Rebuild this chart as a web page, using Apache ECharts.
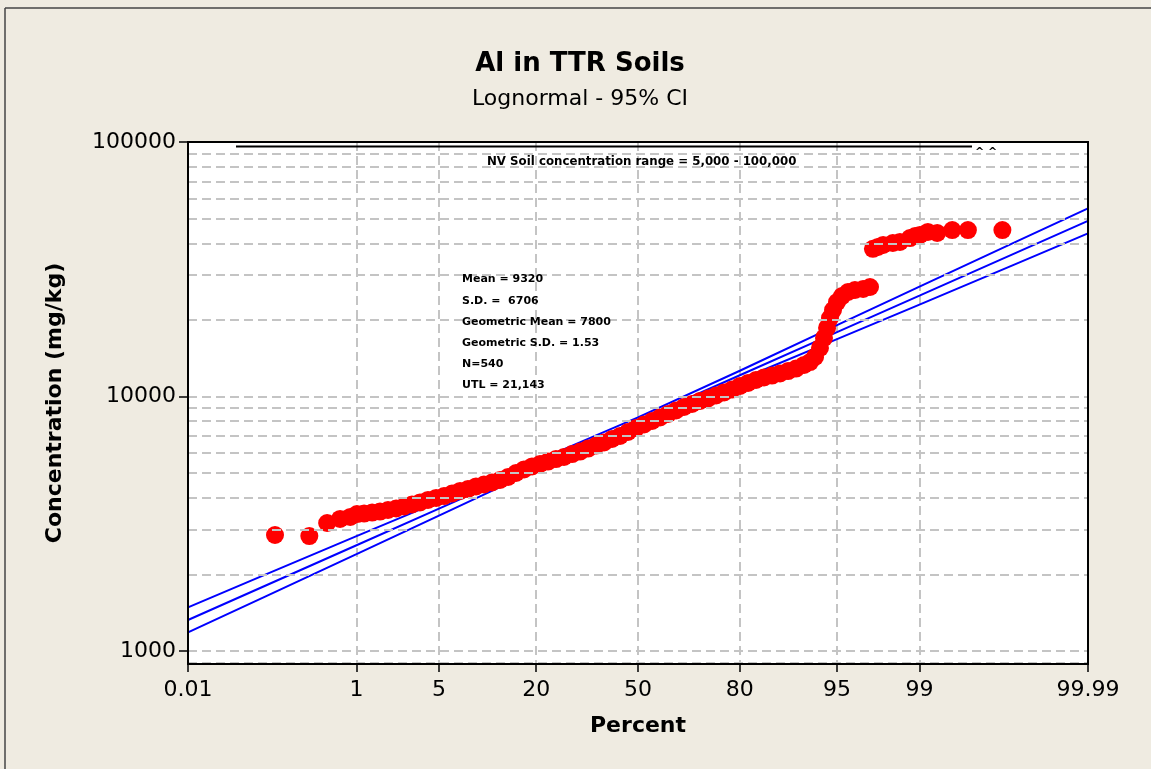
<!DOCTYPE html>
<html>
<head>
<meta charset="utf-8">
<title>Al in TTR Soils</title>
<script src="https://cdn.jsdelivr.net/npm/echarts@6/dist/echarts.min.js"></script>
<style>
    html, body { margin: 0; padding: 0; background: #efebe1; }
    #main { width: 1151px; height: 769px; }
</style>
</head>
<body>
<div id="main"></div>
<script>
// 概率图 - 对数正态

// x轴百分比刻度
let pctTicks = [0.01, 1, 5, 20, 50, 80, 95, 99, 99.99];
// y轴刻度
let concTicks = [1000, 10000, 100000];
// 横向网格线
let gridConc = [900, 1000, 2000, 3000, 4000, 5000, 6000, 7000, 8000, 9000,
    10000, 20000, 30000, 40000, 50000, 60000, 70000, 80000, 90000];

// 样本点 (百分比, 浓度 mg/kg)
let samplePct = [0.135, 0.33, 0.51, 0.69, 0.87, 1.01, 1.18, 1.40, 1.65, 1.94,
    2.28, 2.66, 3.09, 3.58, 4.13, 4.76, 5.45, 6.22, 7.07, 8.00,
    9.03, 10.15, 11.37, 12.71, 14.14, 15.67, 17.31, 19.05, 20.90, 22.84,
    24.89, 27.03, 29.29, 31.60, 33.98, 36.43, 38.94, 41.49, 44.08, 46.69,
    49.34, 51.99, 54.62, 57.22, 59.79, 62.32, 64.80, 67.22, 69.57, 71.87,
    74.05, 76.15, 78.14, 80.04, 81.83, 83.52, 85.11, 86.59, 87.98, 89.25,
    90.42, 91.50, 92.24, 92.83, 93.37, 93.79, 94.09, 94.37, 94.65, 95.00,
    95.41, 95.87, 96.35, 96.86, 97.24,
    97.39, 97.63, 97.86, 98.24, 98.48, 98.77, 98.90, 99.01, 99.17, 99.33,
    99.53, 99.68, 99.87];
let sampleConc = [2856, 2830, 3184, 3302, 3362, 3453, 3469, 3500, 3532, 3581,
    3630, 3697, 3764, 3833, 3921, 3993, 4064, 4158, 4254, 4330,
    4430, 4510, 4593, 4698, 4827, 5005, 5167, 5309, 5430, 5553,
    5680, 5784, 5943, 6079, 6246, 6418, 6595, 6808, 6995, 7252,
    7519, 7762, 8011, 8270, 8535, 8810, 9093, 9343, 9600, 9820,
    10090, 10370, 10650, 11000, 11300, 11610, 11880, 12090, 12320, 12590,
    12880, 13300, 13660, 14300, 15510, 16980, 18590, 20340, 21870, 23510,
    24820, 25740, 26210, 26450, 26930,
    38040, 38680, 39400, 40100, 40470, 41950, 42720, 43110, 44310, 43900,
    45100, 45100, 45100];

// 拟合线及95%置信区间
let fitPct = [0.01, 0.1, 1, 5, 20, 50, 80, 95, 99, 99.9, 99.99];
let fitConc = [1324, 1797, 2604, 3625, 5352, 8054, 12120, 17890, 24900, 36090, 48980];
let upperConc = [1483, 1986, 2826, 3861, 5575, 8276, 12620, 19060, 27020, 39870, 54840];
let lowerConc = [1183, 1627, 2401, 3403, 5138, 7838, 11640, 16800, 22960, 32680, 43740];

// 统计信息
let statsLines = ['Mean = 9320', 'S.D. =  6706', 'Geometric Mean = 7800',
    'Geometric S.D. = 1.53', 'N=540', 'UTL = 21,143'];
let rangeNote = 'NV Soil concentration range = 5,000 - 100,000';

const FONT = 'DejaVu Sans';

//正态分布逆函数 (概率坐标)
function probit(p) {
    let a = [-3.969683028665376e+01, 2.209460984245205e+02, -2.759285104469687e+02, 1.383577518672690e+02, -3.066479806614716e+01, 2.506628277459239e+00];
    let b = [-5.447609879822406e+01, 1.615858368580409e+02, -1.556989798598866e+02, 6.680131188771972e+01, -1.328068155288572e+01];
    let c = [-7.784894002430293e-03, -3.223964580411365e-01, -2.400758277161838e+00, -2.549732539343734e+00, 4.374664141464968e+00, 2.938163982698783e+00];
    let d = [7.784695709041462e-03, 3.224671290700398e-01, 2.445134137142996e+00, 3.754408661907416e+00];
    let pl = 0.02425, q, r;
    if (p < pl) {
        q = Math.sqrt(-2 * Math.log(p));
        return (((((c[0] * q + c[1]) * q + c[2]) * q + c[3]) * q + c[4]) * q + c[5]) / ((((d[0] * q + d[1]) * q + d[2]) * q + d[3]) * q + 1);
    }
    if (p > 1 - pl) {
        q = Math.sqrt(-2 * Math.log(1 - p));
        return -(((((c[0] * q + c[1]) * q + c[2]) * q + c[3]) * q + c[4]) * q + c[5]) / ((((d[0] * q + d[1]) * q + d[2]) * q + d[3]) * q + 1);
    }
    q = p - 0.5;
    r = q * q;
    return (((((a[0] * r + a[1]) * r + a[2]) * r + a[3]) * r + a[4]) * r + a[5]) * q / (((((b[0] * r + b[1]) * r + b[2]) * r + b[3]) * r + b[4]) * r + 1);
}

function toPoints(pcts, vals) {
    return pcts.map((p, i) => [probit(p / 100), vals[i]]);
}

let tickZ = pctTicks.map(p => probit(p / 100));

let myChart = echarts.init(document.getElementById('main'));

let blueLine = {
    type: 'line',
    showSymbol: false,
    silent: true,
    z: 2,
    lineStyle: { color: '#0000ff', width: 2 }
};

let option = {
    backgroundColor: '#efebe1',
    animation: false,
    grid: {
        left: 188,
        top: 142,
        right: 63,
        bottom: 105,
        show: true,
        backgroundColor: '#ffffff',
        borderWidth: 0
    },
    xAxis: {
        type: 'value',
        min: probit(0.0001),
        max: probit(0.9999),
        name: 'Percent',
        nameLocation: 'middle',
        nameGap: 51,
        nameTextStyle: { fontFamily: FONT, fontWeight: 'bold', fontSize: 22, color: '#000' },
        axisLine: { show: true, onZero: false, lineStyle: { color: '#000', width: 2 } },
        axisTick: { show: true, length: 8, customValues: tickZ, lineStyle: { color: '#000', width: 1.5 } },
        axisLabel: {
            customValues: tickZ,
            margin: 15,
            fontFamily: FONT,
            fontSize: 22,
            color: '#000',
            formatter: function (v) {
                for (let i = 0; i < tickZ.length; i++) {
                    if (Math.abs(tickZ[i] - v) < 1e-6) return String(pctTicks[i]);
                }
                return '';
            }
        },
        splitLine: { show: true, lineStyle: { color: '#c4c4c4', width: 2, type: [9, 5] } }
    },
    yAxis: {
        type: 'log',
        logBase: 10,
        min: 889,
        max: 100000,
        name: 'Concentration (mg/kg)',
        nameLocation: 'middle',
        nameGap: 122,
        nameTextStyle: { fontFamily: FONT, fontWeight: 'bold', fontSize: 22, color: '#000' },
        axisLine: { show: true, onZero: false, lineStyle: { color: '#000', width: 2 } },
        axisTick: { show: true, length: 9, lineStyle: { color: '#000', width: 1.5 } },
        axisLabel: {
            margin: 12,
            fontFamily: FONT,
            fontSize: 22,
            color: '#000',
            showMinLabel: false,
            formatter: function (v) {
                let r = Math.round(v);
                return concTicks.indexOf(r) >= 0 ? String(r) : '';
            }
        },
        splitLine: { show: false }
    },
    graphic: [
        // 外框
        { type: 'line', silent: true, shape: { x1: 5, y1: 8, x2: 1151, y2: 8 }, style: { stroke: '#444', lineWidth: 1.5 } },
        { type: 'line', silent: true, shape: { x1: 5, y1: 8, x2: 5, y2: 769 }, style: { stroke: '#444', lineWidth: 1.5 } },
        // 绘图区边框
        { type: 'rect', z: 20, silent: true, shape: { x: 188, y: 142, width: 900, height: 522 }, style: { fill: 'none', stroke: '#000', lineWidth: 2 } },
        // 标题
        { type: 'text', x: 580, y: 64, style: { text: 'Al in TTR Soils', font: 'bold 26px "DejaVu Sans"', fill: '#000', textAlign: 'center', textVerticalAlign: 'middle' } },
        { type: 'text', x: 580, y: 99, style: { text: 'Lognormal - 95% CI', font: '22px "DejaVu Sans"', fill: '#000', textAlign: 'center', textVerticalAlign: 'middle' } },
        // 土壤浓度范围
        { type: 'line', z: 10, silent: true, shape: { x1: 236, y1: 146.5, x2: 972, y2: 146.5 }, style: { stroke: '#000', lineWidth: 2 } },
        { type: 'text', z: 10, x: 975, y: 152, style: { text: '^ ^', font: 'bold 11px "DejaVu Sans"', fill: '#000', textVerticalAlign: 'middle' } },
        { type: 'text', z: 10, x: 487, y: 162, style: { text: rangeNote, font: 'bold 11.8px "DejaVu Sans"', fill: '#000', textVerticalAlign: 'middle' } },
        // 统计
        { type: 'text', z: 10, x: 462, y: 269, style: { text: statsLines.join('\n'), font: 'bold 11px "DejaVu Sans"', lineHeight: 21.2, fill: '#000' } }
    ],
    series: [
        {
            // 横向网格线
            type: 'line',
            data: toPoints(fitPct, fitConc),
            showSymbol: false,
            silent: true,
            z: 1,
            lineStyle: { opacity: 0 },
            markLine: {
                silent: true,
                symbol: ['none', 'none'],
                label: { show: false },
                lineStyle: { color: '#c4c4c4', width: 2, type: [9, 5] },
                data: gridConc.map(v => ({ yAxis: v }))
            }
        },
        Object.assign({ data: toPoints(fitPct, upperConc) }, blueLine),
        Object.assign({ data: toPoints(fitPct, fitConc) }, blueLine),
        Object.assign({ data: toPoints(fitPct, lowerConc) }, blueLine),
        {
            type: 'scatter',
            z: 3,
            symbolSize: 18,
            itemStyle: { color: '#ff0000', opacity: 1 },
            data: toPoints(samplePct, sampleConc)
        }
    ]
};

myChart.setOption(option);
</script>
</body>
</html>
